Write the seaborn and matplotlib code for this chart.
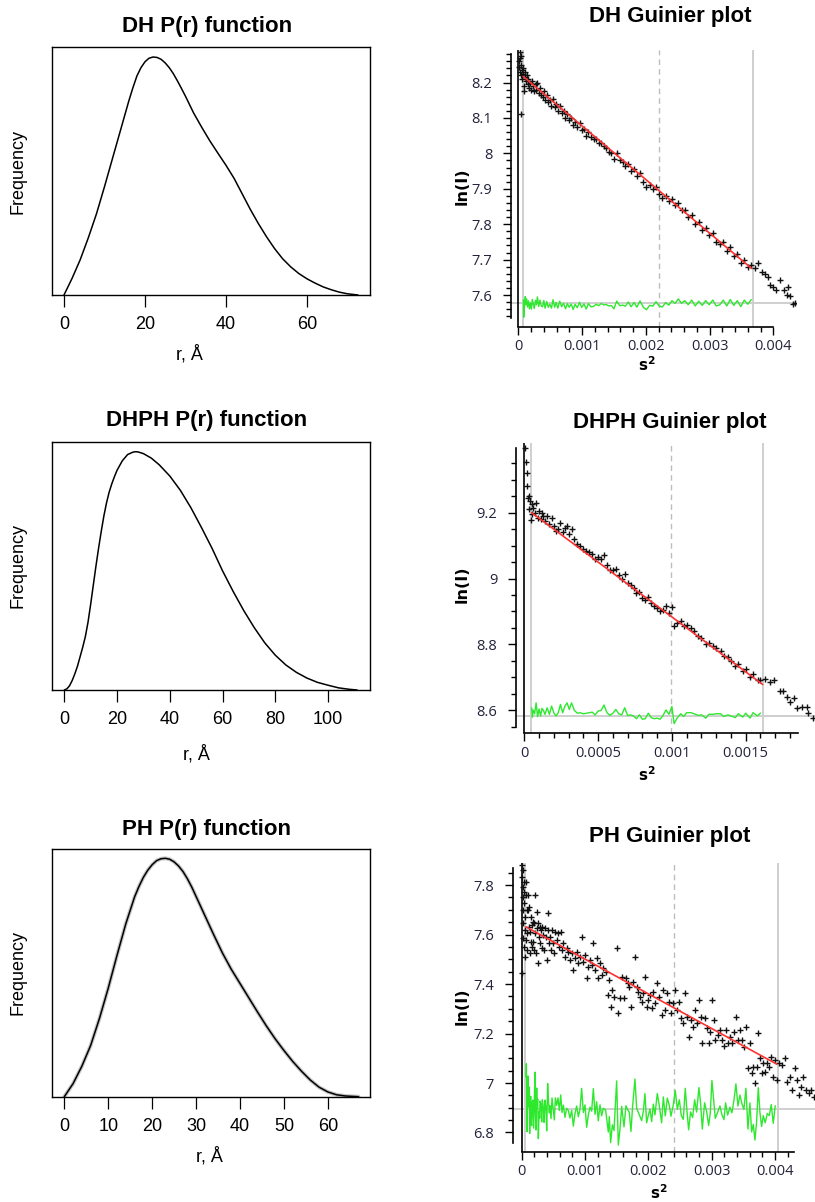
import numpy as np
import pandas as pd
import seaborn as sns
import matplotlib.pyplot as plt
from matplotlib.ticker import FuncFormatter

sns.set_style("ticks")
plt.rcParams["font.family"] = ["Liberation Sans", "DejaVu Sans"]
plt.rcParams["mathtext.fontset"] = "dejavusans"
plt.rcParams.update({"text.color": "black", "axes.labelcolor": "black",
                     "xtick.color": "black", "ytick.color": "black"})

# P(r) curves (height normalised to the peak)
dh_r = [0, 2, 4, 6, 8, 10, 12, 14, 16, 17, 18, 19, 20, 21, 22, 23, 24, 25, 26, 27, 28, 29,
        30, 32, 34, 36, 38, 40, 42, 44, 46, 48, 50, 52, 54, 56, 58, 60, 62, 64, 66, 68, 70,
        72.6]
dh_p = [0, 0.07, 0.148, 0.24, 0.34, 0.455, 0.575, 0.695, 0.815, 0.87, 0.92, 0.955, 0.98,
        0.995, 1.0, 0.998, 0.99, 0.975, 0.955, 0.93, 0.9, 0.868, 0.835, 0.765, 0.705, 0.648,
        0.596, 0.545, 0.49, 0.425, 0.36, 0.3, 0.245, 0.195, 0.152, 0.118, 0.09, 0.068, 0.05,
        0.034, 0.022, 0.012, 0.005, 0]

dhph_r = [0, 1, 2, 3, 4, 5, 6, 7, 8, 9, 10, 11, 12, 13, 14, 15, 16, 17, 18, 19, 20, 22, 24,
          26, 27, 28, 30, 33, 36, 40, 44, 48, 52, 56, 60, 64, 68, 72, 76, 80, 84, 88, 92,
          96, 100, 104, 108, 111]
dhph_p = [0, 0.005, 0.018, 0.04, 0.068, 0.1, 0.14, 0.18, 0.225, 0.285, 0.36, 0.44, 0.52,
          0.595, 0.665, 0.73, 0.785, 0.83, 0.865, 0.895, 0.922, 0.962, 0.988, 0.998, 1.0,
          0.999, 0.992, 0.973, 0.945, 0.898, 0.838, 0.765, 0.682, 0.595, 0.5, 0.414, 0.334,
          0.262, 0.198, 0.146, 0.105, 0.074, 0.05, 0.032, 0.02, 0.009, 0.003, 0]

ph_r = [0, 2, 4, 6, 8, 10, 12, 14, 16, 17, 18, 19, 20, 21, 22, 23, 24, 25, 26, 27, 28, 29,
        30, 32, 34, 36, 38, 40, 42, 44, 46, 48, 50, 52, 54, 56, 58, 60, 62, 64, 67]
ph_p = [0, 0.055, 0.128, 0.215, 0.328, 0.455, 0.593, 0.725, 0.838, 0.882, 0.92, 0.95,
        0.973, 0.99, 0.998, 1.0, 0.996, 0.985, 0.968, 0.945, 0.915, 0.88, 0.84, 0.76, 0.68,
        0.603, 0.535, 0.475, 0.415, 0.355, 0.297, 0.243, 0.194, 0.148, 0.107, 0.07, 0.04,
        0.02, 0.008, 0.003, 0]

# Guinier data: s^2 (in units of 1e-4) and ln(I)
dh_s2 = [0.1, 0.15, 0.2, 0.25, 0.3, 0.35, 0.4, 0.45, 0.5, 0.55, 0.6, 0.7, 0.8, 0.85, 0.9,
         1.0, 1.1, 1.2, 1.3, 1.45, 1.6, 1.75, 1.9, 2.05, 2.2, 2.35, 2.5, 2.7, 2.85, 3.0,
         3.2, 3.4, 3.6, 3.8, 4.0, 4.2, 4.45, 4.7, 4.95, 5.2, 5.45, 5.7, 5.95, 6.2, 6.5,
         6.8, 7.1, 7.4, 7.7, 8.0, 8.3, 8.6, 8.9, 9.25, 9.6, 9.95, 10.3, 10.65, 11.0, 11.4,
         11.8, 12.2, 12.6, 13.0, 13.4, 13.8, 14.2, 14.6, 15.0, 15.45, 15.9, 16.35, 16.8,
         17.25, 17.7, 18.15, 18.6, 19.1, 19.6, 20.1, 20.6, 21.1, 21.6, 22.1, 22.6, 23.1,
         23.6, 24.1, 24.6, 25.1, 25.6, 26.1, 26.65, 27.2, 27.75, 28.3, 28.85, 29.4, 29.95,
         30.5, 31.05, 31.6, 32.15, 32.7, 33.25, 33.8, 34.35, 34.9, 35.45, 36.0, 36.55,
         37.1, 37.65, 38.2, 38.75, 39.2, 39.5, 40.0, 40.5, 41.05, 41.6, 42.1, 42.35, 42.6,
         43.1, 43.4]
dh_lnI = [8.245, 8.26, 8.285, 8.23, 8.27, 8.11, 8.25, 8.22, 8.275, 8.235, 8.21, 8.24, 8.225,
          8.175, 8.19, 8.215, 8.23, 8.205, 8.22, 8.195, 8.21, 8.185, 8.2, 8.18, 8.205, 8.19,
          8.175, 8.195, 8.18, 8.2, 8.17, 8.185, 8.165, 8.16, 8.175, 8.15, 8.165, 8.145, 8.15,
          8.135, 8.155, 8.13, 8.14, 8.12, 8.135, 8.115, 8.12, 8.1, 8.11, 8.095, 8.1, 8.08,
          8.09, 8.075, 8.085, 8.065, 8.07, 8.05, 8.06, 8.045, 8.04, 8.04, 8.03, 8.03, 8.02,
          8.015, 8.005, 8.0, 7.985, 8.0, 7.98, 7.975, 7.965, 7.97, 7.95, 7.955, 7.935, 7.945,
          7.92, 7.905, 7.91, 7.9, 7.905, 7.885, 7.875, 7.88, 7.865, 7.87, 7.855, 7.86, 7.84,
          7.84, 7.82, 7.825, 7.80, 7.805, 7.785, 7.79, 7.77, 7.775, 7.75, 7.745, 7.75, 7.725,
          7.735, 7.71, 7.715, 7.69, 7.70, 7.68, 7.685, 7.675, 7.69, 7.666, 7.66, 7.652,
          7.628, 7.623, 7.614, 7.642, 7.614, 7.6, 7.623, 7.597, 7.575, 7.577]

dhph_s2 = [0.05, 0.1, 0.15, 0.2, 0.25, 0.3, 0.35, 0.4, 0.45, 0.5, 0.55, 0.6, 0.7, 0.8, 0.9,
           1.0, 1.1, 1.2, 1.3, 1.4, 1.55, 1.7, 1.85, 2.0, 2.15, 2.3, 2.45, 2.6, 2.75, 2.9,
           3.05, 3.2, 3.4, 3.6, 3.8, 4.0, 4.2, 4.4, 4.6, 4.8, 5.0, 5.2, 5.4, 5.6, 5.8, 6.0,
           6.2, 6.4, 6.6, 6.8, 7.0, 7.2, 7.4, 7.6, 7.8, 8.0, 8.2, 8.4, 8.6, 8.8, 9.0, 9.2,
           9.4, 9.6, 9.8, 10.0, 10.15, 10.35, 10.6, 10.8, 11.0, 11.3, 11.5, 11.8, 12.0, 12.3,
           12.5, 12.8, 13.0, 13.3, 13.5, 13.8, 14.0, 14.3, 14.5, 14.8, 15.0, 15.3, 15.5,
           15.8, 16.0, 16.3, 16.65, 16.9, 17.33, 17.55, 17.78, 18.0, 18.27, 18.45, 18.79,
           19.13, 19.24, 19.58]
dhph_lnI = [9.397, 9.355, 9.32, 9.28, 9.245, 9.25, 9.21, 9.235, 9.178, 9.225, 9.195, 9.215,
            9.2, 9.23, 9.185, 9.205, 9.18, 9.2, 9.19, 9.175, 9.19, 9.165, 9.185, 9.16, 9.145,
            9.15, 9.17, 9.14, 9.155, 9.16, 9.135, 9.15, 9.12, 9.105, 9.1, 9.09, 9.085, 9.08,
            9.075, 9.06, 9.065, 9.06, 9.07, 9.04, 9.025, 9.025, 9.03, 9.01, 9.0, 9.015, 8.985,
            8.98, 8.97, 8.955, 8.96, 8.94, 8.935, 8.945, 8.925, 8.915, 8.91, 8.9, 8.905,
            8.915, 8.895, 8.912, 8.855, 8.865, 8.87, 8.855, 8.86, 8.85, 8.84, 8.825, 8.82,
            8.80, 8.805, 8.795, 8.79, 8.78, 8.765, 8.76, 8.75, 8.735, 8.74, 8.72, 8.725, 8.70,
            8.71, 8.69, 8.692, 8.696, 8.686, 8.693, 8.659, 8.659, 8.641, 8.626, 8.636, 8.605,
            8.61, 8.608, 8.59, 8.575]

ph_s2 = [0.05, 0.1, 0.16, 0.21, 0.26, 0.32, 0.37, 0.16, 0.42, 0.26, 0.47, 0.21, 0.53, 0.32,
         0.58, 0.1, 0.63, 0.68, 0.74, 0.79, 0.84, 0.89,
         1.0, 1.05, 1.16, 1.21, 1.26, 1.32, 1.42, 1.47, 1.58, 1.63, 1.74, 1.84, 1.89, 2.0,
         2.1, 2.16, 2.26, 2.37, 2.42, 2.53, 2.63, 2.74, 2.84, 2.89,
         3.05, 3.16, 3.26, 3.42, 3.53, 3.68, 3.84, 3.95, 4.1, 4.21, 4.37, 4.47, 4.63, 4.79,
         5.0, 5.16, 5.32, 5.53,
         5.74, 5.95, 6.16, 6.37, 6.58, 6.84, 7.1, 7.37, 7.63, 7.9, 8.16, 8.42, 8.68, 8.95,
         9.21, 9.47, 9.74, 10.0, 10.26, 10.53, 10.79,
         11.05, 11.32, 11.58, 11.84, 12.1, 12.37, 12.63, 12.89, 13.26, 13.68, 13.84, 14.05,
         14.32, 14.58, 15.0, 15.26, 15.53, 15.79,
         16.16, 16.47, 16.74, 17.0, 17.26, 17.53, 17.89, 18.16, 18.42, 18.68, 18.95, 19.21,
         19.47, 19.74, 20.0, 20.26, 20.53, 20.79, 21.05, 21.42,
         21.74, 22.1, 22.37, 22.68, 23.0, 23.32, 23.58, 23.95, 24.26, 24.58, 24.9, 25.21,
         25.53, 25.84, 26.1, 26.37, 26.68,
         27.0, 27.32, 27.63, 28.0, 28.26, 28.53, 28.89, 29.21, 29.53, 29.79, 30.05, 30.32,
         30.58, 30.95, 31.32, 31.63,
         31.95, 32.21, 32.53, 32.89, 33.21, 33.53, 33.84, 34.16, 34.47, 34.79, 35.1, 35.42,
         35.74, 36.05, 36.32, 36.58, 36.84,
         37.1, 37.37, 37.63, 37.89, 38.16, 38.47, 38.79, 39.1, 39.42, 39.74, 40.05, 40.37,
         40.68, 41.1, 41.53, 41.95,
         42.37, 42.68, 43.1, 43.42, 43.74, 44.16, 44.47, 44.89, 45.32, 45.74, 46.16]
ph_lnI = [7.881, 7.834, 7.861, 7.793, 7.753, 7.773, 7.813, 7.699, 7.726, 7.645, 7.672, 7.585,
          7.618, 7.551, 7.511, 7.444, 7.578, 7.76, 7.813, 7.699, 7.537, 7.605,
          7.76, 7.699, 7.632, 7.712, 7.524, 7.611, 7.672, 7.571, 7.551, 7.638, 7.652, 7.571,
          7.537, 7.645, 7.76, 7.605, 7.524, 7.692, 7.625, 7.645, 7.484, 7.591, 7.564, 7.632,
          7.618, 7.544, 7.632, 7.598, 7.537, 7.625, 7.591, 7.497, 7.686, 7.618, 7.564, 7.591,
          7.537, 7.618, 7.564, 7.524, 7.611, 7.578,
          7.605, 7.551, 7.611, 7.537, 7.564, 7.511, 7.544, 7.531, 7.497, 7.524, 7.457, 7.504,
          7.531, 7.484, 7.511, 7.591, 7.49, 7.517, 7.423, 7.47, 7.497,
          7.477, 7.564, 7.457, 7.504, 7.423, 7.484, 7.436, 7.463, 7.45, 7.356, 7.416, 7.308,
          7.376, 7.349, 7.544, 7.281, 7.342, 7.43,
          7.342, 7.423, 7.403, 7.389, 7.308, 7.409, 7.511, 7.389, 7.369, 7.349, 7.328, 7.362,
          7.43, 7.308, 7.335, 7.356, 7.302, 7.369, 7.322, 7.403,
          7.349, 7.275, 7.376, 7.295, 7.362, 7.329, 7.281, 7.322, 7.376, 7.295, 7.329, 7.261,
          7.241, 7.362, 7.268, 7.187, 7.255,
          7.228, 7.295, 7.241, 7.335, 7.268, 7.16, 7.261, 7.221, 7.16, 7.207, 7.335, 7.255,
          7.174, 7.194, 7.214, 7.174,
          7.15, 7.214, 7.16, 7.187, 7.16, 7.207, 7.268, 7.174, 7.214, 7.174, 7.147, 7.228,
          7.059, 7.16, 7.039, 7.066, 6.999,
          7.066, 7.203, 7.1, 7.039, 7.079, 7.046, 7.079, 7.066, 7.106, 7.026, 7.093, 7.012,
          7.079, 7.073, 7.1, 7.005,
          7.026, 6.972, 7.059, 7.012, 6.952, 6.985, 7.026, 6.972, 6.958, 6.972, 6.945]

# Guinier fit range (s^2 in 1e-4) and fitted ln(I) at both ends
dh_fit_s2, dh_fit_lnI = [0.78, 36.6], [8.217, 7.675]
dhph_fit_s2, dhph_fit_lnI = [0.5, 16.15], [9.2, 8.678]
ph_fit_s2, ph_fit_lnI = [0.68, 40.3], [7.631, 7.076]

# residual baselines and guide lines (s^2 in 1e-4: start, dashed mid, end)
dh_base, dhph_base, ph_base = 7.578, 8.582, 6.895
dh_guides = [0.69, 22.1, 36.77]
dhph_guides = [0.433, 9.94, 16.15]
ph_guides = [0.52, 24.1, 40.5]

W, H = 815, 1202
fig = plt.figure(figsize=(W / 100, H / 100), dpi=100)


def add_ax(x0, y0, x1, y1):
    return fig.add_axes([x0 / W, 1 - y1 / H, (x1 - x0) / W, (y1 - y0) / H])


def put(px, py, s, **kw):
    fig.text(px / W, 1 - py / H, s, **kw)


# ---- left column: P(r) functions ----
pr_panels = [
    dict(name="DH", r=dh_r, p=dh_p, box=(52, 47, 370, 295), xlim=(-2.96, 75.56), ytop=1.042,
         ticks=[0, 20, 40, 60], tbase=31.7, xl=(189, 360)),
    dict(name="DHPH", r=dhph_r, p=dhph_p, box=(52, 441.7, 370, 690), xlim=(-4.66, 115.9),
         ytop=1.042, ticks=[0, 20, 40, 60, 80, 100], tbase=426, xl=(196, 760)),
    dict(name="PH", r=ph_r, p=ph_p, box=(52, 849, 370, 1096.7), xlim=(-2.8, 69.6), ytop=1.039,
         ticks=[0, 10, 20, 30, 40, 50, 60], tbase=835, xl=(209, 1162)),
]

for pan in pr_panels:
    ax = add_ax(*pan["box"])
    df = pd.DataFrame({"r": pan["r"], "P": pan["p"]})
    if pan["name"] == "PH":
        sns.lineplot(data=df, x="r", y="P", color="#c6c6c6", lw=2.8, ax=ax)
    sns.lineplot(data=df, x="r", y="P", color="black", lw=1.1, ax=ax)
    ax.set_xlim(*pan["xlim"])
    ax.set_ylim(0, pan["ytop"])
    ax.set_yticks([])
    ax.set_xticks(pan["ticks"])
    ax.tick_params(axis="x", direction="out", length=8.4, width=0.9, pad=7,
                   labelsize=13, colors="black")
    for sp in ax.spines.values():
        sp.set_visible(True)
        sp.set_linewidth(1.0)
        sp.set_color("black")
    ax.set_xlabel("")
    ax.set_ylabel("")
    put(207, pan["tbase"], f"{pan['name']} P(r) function", fontsize=16, fontweight="bold",
        ha="center", va="baseline")
    y0, y1 = pan["box"][1], pan["box"][3]
    put(18, (y0 + y1) / 2, "Frequency", fontsize=13, rotation=90, ha="center", va="center")
    put(pan["xl"][0], pan["xl"][1], "r, Å", fontsize=13, ha="center", va="baseline")

# ---- right column: Guinier plots ----
g_panels = [
    dict(name="DH", s2=dh_s2, lnI=dh_lnI, fit=(dh_fit_s2, dh_fit_lnI), base=dh_base,
         guides=dh_guides, box=(511, 50, 796, 326.7), xlim=(-0.0001145, 0.004356),
         ylim=(7.5105, 8.292), yspine=(7.535, 8.282), xspine=(0, 0.004),
         ymaj=np.arange(7.6, 8.25, 0.1), ymin=np.arange(7.54, 8.29, 0.02),
         xmaj=np.arange(0, 0.0041, 0.001), xmin=np.arange(0, 0.0041, 0.0002),
         title=(670, 21.7), sl=(647, 371), ln=(461.7, 186.7)),
    dict(name="DHPH", s2=dhph_s2, lnI=dhph_lnI, fit=(dhph_fit_s2, dhph_fit_lnI),
         base=dhph_base, guides=dhph_guides, box=(516, 443, 815, 733.3),
         xlim=(-0.0000562, 0.0019695), ylim=(8.5295, 9.4119), yspine=(8.549, 9.397),
         xspine=(0, 0.001856), ymaj=[8.6, 8.8, 9.0, 9.2], ymin=np.arange(8.55, 9.36, 0.05),
         xmaj=[0, 0.0005, 0.001, 0.0015], xmin=np.arange(0, 0.00181, 0.0001),
         title=(670, 428.3), sl=(647, 781), ln=(461.7, 584.5)),
    dict(name="PH", s2=ph_s2, lnI=ph_lnI, fit=(ph_fit_s2, ph_fit_lnI), base=ph_base,
         guides=ph_guides, box=(512.7, 863, 815, 1151.7), xlim=(-0.000142, 0.004633),
         ylim=(6.7224, 7.889), yspine=(6.757, 7.867), xspine=(0, 0.0043),
         ymaj=np.arange(6.8, 7.81, 0.2), ymin=np.arange(6.8, 7.86, 0.05),
         xmaj=np.arange(0, 0.0041, 0.001), xmin=np.arange(0, 0.00421, 0.0002),
         title=(670, 841.7), sl=(659, 1199), ln=(461.7, 1006.7)),
]

fmt = FuncFormatter(lambda v, pos: f"{v:g}")

for pan in g_panels:
    ax = add_ax(*pan["box"])
    s2 = np.array(pan["s2"]) * 1e-4
    lnI = np.array(pan["lnI"])
    fit_s2 = np.array(pan["fit"][0]) * 1e-4
    fit_lnI = np.array(pan["fit"][1])

    g = np.array(pan["guides"]) * 1e-4
    ax.axvline(g[0], color="#cfcfcf", lw=1.4, zorder=0)
    ax.axvline(g[1], color="#bdbdbd", lw=1.0, ls=(0, (4, 3)), zorder=0)
    ax.axvline(g[2], color="#cfcfcf", lw=1.4, zorder=0)
    ax.axhline(pan["base"], color="#cfcfcf", lw=1.4, zorder=0)
    ax.axvline(0, color="black", lw=1.2, zorder=1)

    pts = pd.DataFrame({"s2": s2, "lnI": lnI})
    sns.scatterplot(data=pts, x="s2", y="lnI", marker="+", color="#111111", s=16,
                    linewidth=1.0, ax=ax, zorder=2)

    # residuals of the points inside the fit range, drawn about the baseline
    inside = pts[(pts.s2 >= fit_s2[0]) & (pts.s2 <= fit_s2[1])].sort_values("s2")
    res = inside.lnI - np.interp(inside.s2, fit_s2, fit_lnI)
    rdf = pd.DataFrame({"s2": inside.s2, "y": pan["base"] + res})
    sns.lineplot(data=rdf, x="s2", y="y", color="#2ee82e", lw=1.0, estimator=None,
                 ax=ax, zorder=3)

    sns.lineplot(x=fit_s2, y=fit_lnI, color="#ff3030", lw=1.2, ax=ax, zorder=4)

    ax.set_xlim(*pan["xlim"])
    ax.set_ylim(*pan["ylim"])
    ax.spines["top"].set_visible(False)
    ax.spines["right"].set_visible(False)
    for side in ("left", "bottom"):
        ax.spines[side].set_linewidth(1.2)
        ax.spines[side].set_color("black")
    ax.spines["left"].set_bounds(*pan["yspine"])
    ax.spines["bottom"].set_bounds(*pan["xspine"])
    ax.set_yticks(pan["ymaj"])
    ax.set_yticks(pan["ymin"], minor=True)
    ax.set_xticks(pan["xmaj"])
    ax.set_xticks(pan["xmin"], minor=True)
    ax.xaxis.set_major_formatter(fmt)
    ax.yaxis.set_major_formatter(fmt)
    ax.tick_params(axis="y", which="major", length=5.5, width=1.0, pad=8)
    ax.tick_params(axis="y", which="minor", length=3.5, width=1.0)
    ax.tick_params(axis="x", which="major", length=6, width=1.0, pad=3)
    ax.tick_params(axis="x", which="minor", length=3.8, width=1.0)
    for lab in ax.get_xticklabels() + ax.get_yticklabels():
        lab.set_fontfamily(["Open Sans", "DejaVu Sans"])
        lab.set_fontsize(10.5)
        lab.set_color("#22223a")
    ax.set_xlabel("")
    ax.set_ylabel("")
    ax.set_facecolor("white")

    put(pan["title"][0], pan["title"][1], f"{pan['name']} Guinier plot", fontsize=16,
        fontweight="bold", ha="center", va="baseline")
    put(pan["sl"][0], pan["sl"][1], r"$\mathbf{s^2}$", fontsize=11, ha="center",
        va="baseline")
    put(pan["ln"][0], pan["ln"][1], "ln(I)", fontsize=11.5, fontweight="bold",
        rotation=90, ha="center", va="center", family=["DejaVu Sans"])

fig.savefig("out.png", dpi=100, facecolor="white")
